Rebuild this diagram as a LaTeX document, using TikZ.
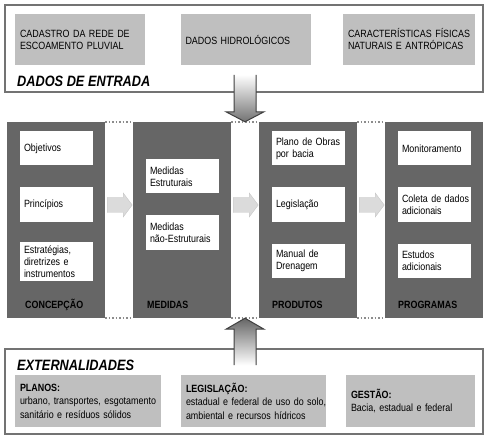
\documentclass[tikz,border=0pt]{standalone}
\usepackage{fontspec}
\setmainfont{Liberation Sans}
\newfontfamily\narrowsans{Liberation Sans}[FakeStretch=0.85]
\usetikzlibrary{shapes.arrows}

\begin{document}
\begin{tikzpicture}[x=1pt, y=-1pt,
		boxfont/.style={font=\narrowsans\fontsize{10.5}{12}\selectfont},
		blockframe/.style={draw=black!55, line width=1.5pt, fill=white, minimum width=478pt},
		graybox/.style={fill=black!25, boxfont, align=left, inner xsep=5pt, text width=120pt, minimum height=51pt},
		colbox/.style={fill=black!60, minimum width=98pt, minimum height=196pt, inner sep=0pt},
		whitebox/.style={fill=white, boxfont, align=left, inner xsep=4.5pt, text width=64pt, minimum height=34pt},
		collabel/.style={anchor=base west, inner sep=0pt, text=black, font=\narrowsans\bfseries\fontsize{10.5}{12}\selectfont},
		frametitle/.style={anchor=base west, inner sep=0pt, text=black, font=\narrowsans\bfseries\itshape\fontsize{15}{18}\selectfont},
		dotline/.style={draw=black!45, line width=1.5pt, dotted},
		harrow/.style={draw=black!22, fill=black!14},
		varrow/.style={draw=black!75, line width=1pt}
	]
	\useasboundingbox (0,0) rectangle (493,441);
	
	% dados de entrada
	\node[blockframe, minimum height=87pt] (entrada) at (244,48.5) {};
	\node[graybox] (cadastro) at (80,39.5) {CADASTRO DA REDE DE\\ESCOAMENTO PLUVIAL};
	\node[graybox] (hidro) at (245.5,39.5) {DADOS HIDROLÓGICOS};
	\node[graybox, text width=122pt] (caract) at (409,39.5) {\mbox{CARACTERÍSTICAS FÍSICAS}\\NATURAIS E ANTRÓPICAS};
	\node[frametitle] (tentrada) at (17,87) {DADOS DE ENTRADA};
	
	% colunas
	\node[colbox] (conc) at (56,220) {};
	\node[colbox] (med) at (182,220) {};
	\node[colbox] (prod) at (308,220) {};
	\node[colbox] (prog) at (434,220) {};
	
	\node[whitebox] (objetivos) at (56,148.5) {Objetivos};
	\node[whitebox] (principios) at (56,204.5) {Princípios};
	\node[whitebox] (estrategias) at (56,261.5) {Estratégias,\\diretrizes e\\instrumentos};
	
	\node[whitebox] (estrut) at (182,176.5) {Medidas\\Estruturais};
	\node[whitebox] (naoestrut) at (182,232.5) {Medidas\\\mbox{não-Estruturais}};
	
	\node[whitebox] (plano) at (308,148.5) {\mbox{Plano de Obras}\\por bacia};
	\node[whitebox] (legis) at (308,204.5) {Legislação};
	\node[whitebox] (manual) at (308,261) {Manual de\\Drenagem};
	
	\node[whitebox] (monit) at (434,148.5) {Monitoramento};
	\node[whitebox] (coleta) at (434,204.5) {\mbox{Coleta de dados}\\adicionais};
	\node[whitebox] (estudos) at (434,261) {Estudos\\adicionais};
	
	\node[collabel] (lconc) at (25,308) {CONCEPÇÃO};
	\node[collabel] (lmed) at (147,308) {MEDIDAS};
	\node[collabel] (lprod) at (272,308) {PRODUTOS};
	\node[collabel] (lprog) at (398,308) {PROGRAMAS};
	
	\draw[dotline] (conc.north east) -- (med.north west);
	\draw[dotline] (med.north east) -- (prod.north west);
	\draw[dotline] (prod.north east) -- (prog.north west);
	\draw[dotline] (conc.south east) -- (med.south west);
	\draw[dotline] (med.south east) -- (prod.south west);
	\draw[dotline] (prod.south east) -- (prog.south west);
	
	% setas horizontais
	\draw[harrow] ([xshift=2pt, yshift=15pt]conc.east) ++(0,-7.5) -- ++(16,0) -- ++(0,-4.5) -- ++(9,12) -- ++(-9,12) -- ++(0,-4.5) -- ++(-16,0) -- cycle;
	\draw[harrow] ([xshift=2pt, yshift=15pt]med.east) ++(0,-7.5) -- ++(16,0) -- ++(0,-4.5) -- ++(9,12) -- ++(-9,12) -- ++(0,-4.5) -- ++(-16,0) -- cycle;
	\draw[harrow] ([xshift=2pt, yshift=15pt]prod.east) ++(0,-7.5) -- ++(16,0) -- ++(0,-4.5) -- ++(9,12) -- ++(-9,12) -- ++(0,-4.5) -- ++(-16,0) -- cycle;
	
	% externalidades
	\node[blockframe, minimum height=85pt] (extern) at (244,391.5) {};
	\node[frametitle] (textern) at (17,370) {EXTERNALIDADES};
	\node[graybox, text width=136pt, minimum height=52pt, font=\narrowsans\fontsize{10.5}{13.5}\selectfont] (planos) at (88,401) {\textbf{PLANOS:}\\\mbox{urbano, transportes, esgotamento}\\sanitário e resíduos sólidos};
	\node[graybox, text width=135pt, minimum height=52pt, font=\narrowsans\fontsize{10.5}{13.5}\selectfont] (legisl) at (253.5,401) {\textbf{LEGISLAÇÃO:}\\\mbox{estadual e federal de uso do solo,}\\ambiental e recursos hídricos};
	\node[graybox, text width=119pt, minimum height=52pt, font=\narrowsans\fontsize{10.5}{13.5}\selectfont] (gestao) at (410.5,401) {\textbf{GESTÃO:}\\Bacia, estadual e federal};
	
	% setas verticais
	\path (med.north east) -- (prod.north west) coordinate[midway] (dtip);
	\path (med.south east) -- (prod.south west) coordinate[midway] (utip);
	\path[varrow, top color=white, bottom color=black!55] (dtip) ++(-11,-47) -- ++(0,37) -- ++(-8,0) -- (dtip) -- ++(19,-10) -- ++(-8,0) -- ++(0,-37);
	\path[varrow, top color=black!60, bottom color=white] (utip) ++(-11,47) -- ++(0,-36) -- ++(-8,0) -- (utip) -- ++(19,11) -- ++(-8,0) -- ++(0,36);
\end{tikzpicture}
\end{document}
